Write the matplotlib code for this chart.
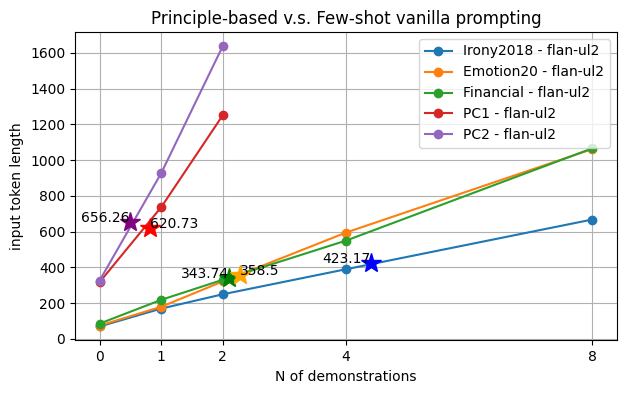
import matplotlib
matplotlib.use("Agg")
import matplotlib.pyplot as plt

# few-shot vanilla prompting: input token length per number of demonstrations
shots = [0, 1, 2, 4, 8]
irony = [70, 170, 250, 390, 668]
emotion = [75, 180, 322, 595, 1062]
financial = [86, 219, 331, 550, 1066]

shots_pc = [0, 1, 2]
pc1 = [318, 737, 1251]
pc2 = [327, 927, 1638]

# principle-based prompting results (star markers)
star_x = [0.49, 0.81, 2.1, 2.28, 4.4]
star_y = [656.26, 620.73, 343.74, 358.5, 423.17]
star_colors = ["purple", "red", "green", "orange", "blue"]
star_align = ["right", "left", "right", "left", "right"]

fig = plt.figure(figsize=(6.27, 3.93), dpi=100)
ax = fig.add_axes([0.1196, 0.1336, 0.8644, 0.785])

ax.plot(shots, irony, marker="o", label="Irony2018 - flan-ul2")
ax.plot(shots, emotion, marker="o", label="Emotion20 - flan-ul2")
ax.plot(shots, financial, marker="o", label="Financial - flan-ul2")
ax.plot(shots_pc, pc1, marker="o", label="PC1 - flan-ul2")
ax.plot(shots_pc, pc2, marker="o", label="PC2 - flan-ul2")

for x, y, c, ha in zip(star_x, star_y, star_colors, star_align):
    ax.plot(x, y, marker="*", color=c, markersize=15, zorder=3)
    ax.text(x, y, str(y), ha=ha)

ax.set_xticks(shots)
ax.set_xlabel("N of demonstrations")
ax.set_ylabel("input token length")
ax.set_title("Principle-based v.s. Few-shot vanilla prompting")
ax.grid(True)
ax.legend(loc="upper right")

fig.savefig("out.png", dpi=100)
